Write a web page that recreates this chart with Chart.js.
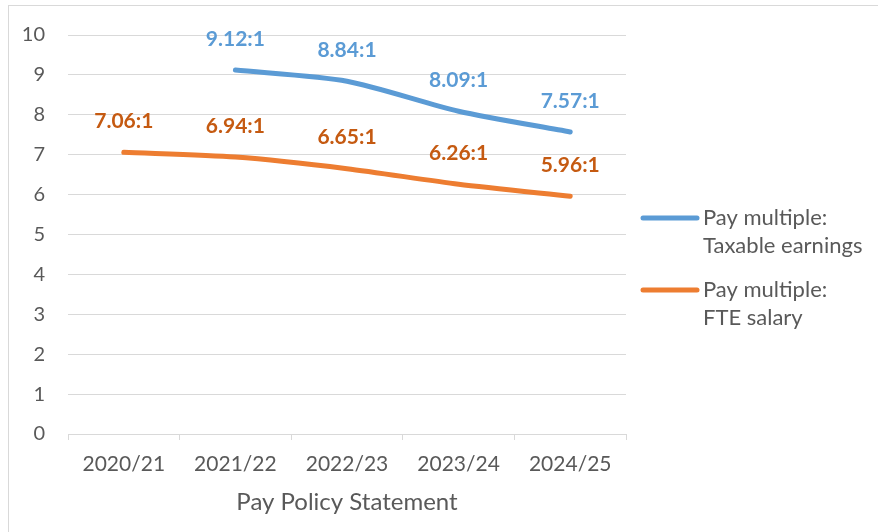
<!DOCTYPE html>
<html>
<head>
<meta charset="utf-8">
<script src="https://cdn.jsdelivr.net/npm/chart.js@4/dist/chart.umd.min.js"></script>
<style>
  html, body { margin: 0; padding: 0; background: #fff; }
  #wrap { width: 878px; height: 532px; position: relative; }
</style>
</head>
<body>
<div id="wrap"><canvas id="chart" width="878" height="532"></canvas></div>
<script>
// categories and values
const categories = ["2020/21", "2021/22", "2022/23", "2023/24", "2024/25"];
const taxableEarnings = [null, 9.12, 8.84, 8.09, 7.57];
const fteSalary = [7.06, 6.94, 6.65, 6.26, 5.96];
const seriesNames = [
  ["Pay multiple:", "Taxable earnings"],
  ["Pay multiple:", "FTE salary"],
];
const yTicks = [0, 1, 2, 3, 4, 5, 6, 7, 8, 9, 10];

const FONT = "Lato, 'Open Sans', sans-serif";
const GREY = "#595959";

// 各点の上にラベルを描く
const pointLabels = {
  id: "pointLabels",
  afterDatasetsDraw(chart) {
    const ctx = chart.ctx;
    ctx.save();
    ctx.font = "bold 21px " + FONT;
    ctx.textAlign = "center";
    ctx.textBaseline = "middle";
    chart.data.datasets.forEach((ds, i) => {
      const meta = chart.getDatasetMeta(i);
      meta.data.forEach((pt, j) => {
        const v = ds.data[j];
        if (v == null) return;
        ctx.fillStyle = ds.labelColor;
        ctx.fillText(v.toFixed(2) + ":1", pt.x, pt.y - 31);
      });
    });
    ctx.restore();
  },
};

// 右側の凡例（2行ラベル）と外枠
const sideLegend = {
  id: "sideLegend",
  beforeDraw(chart) {
    const ctx = chart.ctx;
    ctx.save();
    ctx.strokeStyle = "#d9d9d9";
    ctx.lineWidth = 1;
    ctx.strokeRect(8.5, 5.5, 900, 600);
    ctx.restore();
  },
  afterDraw(chart) {
    const ctx = chart.ctx;
    const area = chart.chartArea;
    ctx.save();
    ctx.font = "22px " + FONT;
    ctx.textBaseline = "middle";
    ctx.textAlign = "left";
    let y = 218;
    chart.data.datasets.forEach((ds, i) => {
      ctx.strokeStyle = ds.borderColor;
      ctx.lineWidth = 5;
      ctx.lineCap = "round";
      ctx.beginPath();
      ctx.moveTo(area.right + 17, y);
      ctx.lineTo(area.right + 71, y);
      ctx.stroke();
      ctx.fillStyle = GREY;
      seriesNames[i].forEach((line, k) => {
        ctx.fillText(line, area.right + 77, y + k * 28);
      });
      y += 72;
    });
    ctx.restore();
  },
};

new Chart(document.getElementById("chart").getContext("2d"), {
  type: "line",
  data: {
    labels: categories,
    datasets: [
      {
        label: seriesNames[0].join(" "),
        data: taxableEarnings,
        borderColor: "#5b9bd5",
        labelColor: "#5b9bd5",
        borderWidth: 5,
        borderCapStyle: "round",
        tension: 0.25,
        pointRadius: 0,
      },
      {
        label: seriesNames[1].join(" "),
        data: fteSalary,
        borderColor: "#ed7d31",
        labelColor: "#c55a11",
        borderWidth: 5,
        borderCapStyle: "round",
        tension: 0.25,
        pointRadius: 0,
      },
    ],
  },
  options: {
    responsive: false,
    animation: false,
    layout: {
      padding: { top: 30, right: 252, bottom: 0, left: 0 },
    },
    scales: {
      x: {
        offset: true,
        grid: {
          offset: true,
          drawOnChartArea: false,
          drawTicks: true,
          tickLength: 6,
          color: "#d9d9d9",
        },
        border: { color: "#d9d9d9", width: 1 },
        ticks: {
          color: GREY,
          font: { family: FONT, size: 21 },
          padding: 12,
          maxRotation: 0,
        },
        title: {
          display: true,
          text: "Pay Policy Statement",
          color: GREY,
          font: { family: FONT, size: 24 },
          padding: { top: 8, bottom: 15 },
        },
        afterFit(scale) {
          scale.height = 98;
        },
      },
      y: {
        min: 0,
        max: 10,
        afterBuildTicks(scale) {
          scale.ticks = yTicks.map((v) => ({ value: v }));
        },
        grid: { color: "#d9d9d9", drawTicks: false },
        border: { display: false },
        ticks: {
          color: GREY,
          font: { family: FONT, size: 20 },
          padding: 23,
        },
        afterFit(scale) {
          scale.width = 68;
        },
      },
    },
    plugins: {
      legend: { display: false },
      tooltip: { enabled: false },
    },
  },
  plugins: [pointLabels, sideLegend],
});
</script>
</body>
</html>
